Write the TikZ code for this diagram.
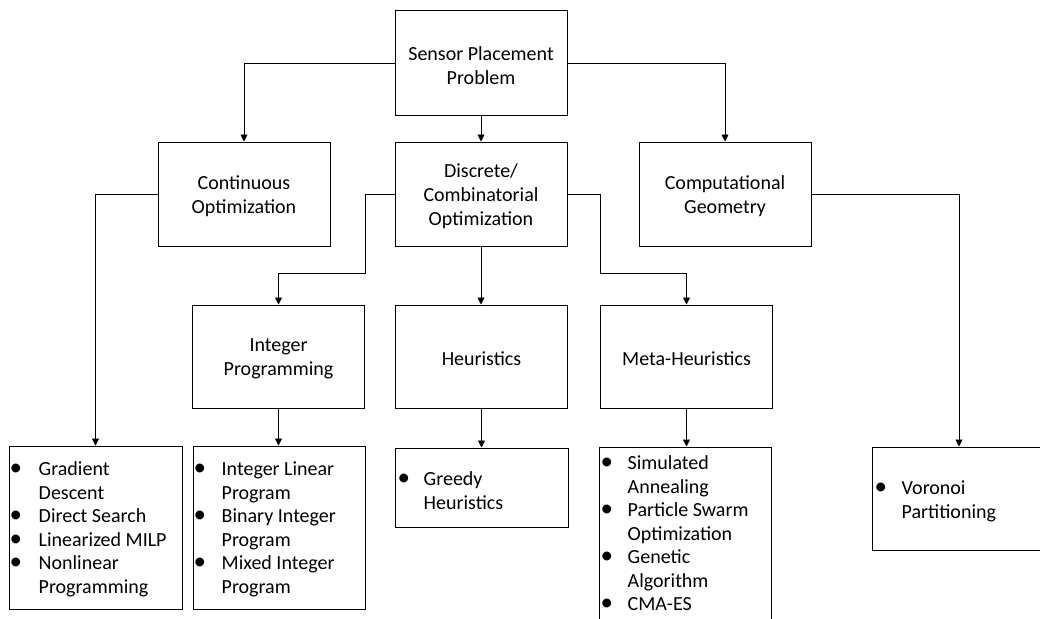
\documentclass[tikz,border=0pt]{standalone}
\usepackage{fontspec}
\setmainfont{Carlito}
\usetikzlibrary{arrows.meta,calc}
\newcommand{\bul}{\raisebox{-0.4pt}{\scalebox{1.25}{\textbullet}}}
\begin{document}
\begin{tikzpicture}[x=1pt,y=-1pt,
  box/.style={draw=black,line width=1pt,minimum width=172pt,minimum height=104pt,inner sep=0pt},
  boxtext/.style={align=center,inner sep=0pt,yshift=-2.5pt,font=\fontsize{20}{24}\selectfont},
  lbox/.style={draw=black,line width=1pt,inner sep=0pt},
  ltext/.style={anchor=base west,inner sep=0pt,font=\fontsize{20}{23.5}\selectfont},
  conn/.style={draw=black,line width=0.8pt,-{Triangle[length=7pt,width=7pt]}}]
\useasboundingbox[fill=white] (0,0) rectangle (1040,618);
\clip (0,0) rectangle (1040,618);

% top and middle boxes
\node[box,label={[boxtext]center:Sensor Placement\\Problem}] (root) at (481,63) {};
\node[box,label={[boxtext]center:Continuous\\Optimization}] (cont) at (244,194) {};
\node[box,label={[boxtext]center:Discrete/\\Combinatorial\\Optimization}] (disc) at (481,194) {};
\node[box,label={[boxtext]center:Computational\\Geometry}] (comp) at (725,194) {};
\node[box,minimum height=103pt,label={[boxtext]center:Integer\\Programming}] (intp) at (278.5,356.5) {};
\node[box,minimum height=103pt,label={[boxtext]center:Heuristics}] (heur) at (481.5,356.5) {};
\node[box,minimum height=103pt,label={[boxtext]center:Meta-Heuristics}] (meta) at (686.5,356.5) {};

% list boxes
\node[lbox,minimum width=173pt,minimum height=163pt] (contlist) at (95.5,527.5) {};
\node[lbox,minimum width=172pt,minimum height=163pt] (intlist) at (279,527.5) {};
\node[lbox,minimum width=173pt,minimum height=79pt] (heurlist) at (481.5,487.5) {};
\node[lbox,minimum width=172pt,minimum height=203pt] (metalist) at (685,548.5) {};
\node[lbox,minimum width=174pt,minimum height=103pt] (vorlist) at (959,498.5) {};

% list texts
\node[ltext] (contitems) at ($(contlist.north west)+(1,30)$)
  {\begin{tabular}[t]{@{}p{29pt}@{}l@{}}\bul & Gradient\\ & Descent\\ \bul & Direct Search\\ \bul & Linearized MILP\\ \bul & Nonlinear\\ & Programming\end{tabular}};
\node[ltext] (intitems) at ($(intlist.north west)+(1,30)$)
  {\begin{tabular}[t]{@{}p{28pt}@{}l@{}}\bul & Integer Linear\\ & Program\\ \bul & Binary Integer\\ & Program\\ \bul & Mixed Integer\\ & Program\end{tabular}};
\node[ltext] (heuritems) at ($(heurlist.north west)+(3,38)$)
  {\begin{tabular}[t]{@{}p{26pt}@{}l@{}}\bul & Greedy\\ & Heuristics\end{tabular}};
\node[ltext] (metaitems) at ($(metalist.north west)+(2,23)$)
  {\begin{tabular}[t]{@{}p{27pt}@{}l@{}}\bul & Simulated\\ & Annealing\\ \bul & Particle Swarm\\ & Optimization\\ \bul & Genetic\\ & Algorithm\\ \bul & CMA-ES\end{tabular}};
\node[ltext] (voritems) at ($(vorlist.north west)+(3,48)$)
  {\begin{tabular}[t]{@{}p{27pt}@{}l@{}}\bul & Voronoi\\ & Partitioning\end{tabular}};

% connectors
\draw[conn] (root.west) -| (cont.north);
\draw[conn] (root.south) -- (disc.north);
\draw[conn] (root.east) -| (comp.north);
\draw[conn] (cont.west) -| (contlist.north);
\draw[conn] (disc.west) -- ++(-29,0) |- ([yshift=31pt]intp.north) -- (intp.north);
\draw[conn] (disc.south) -- (disc.south |- heur.north);
\draw[conn] (disc.east) -- ++(33,0) |- ([yshift=31pt]meta.north) -- (meta.north);
\draw[conn] (comp.east) -| (vorlist.north);
\draw[conn] (intp.south) -- (intp.south |- intlist.north);
\draw[conn] (heur.south) -- (heur.south |- heurlist.north);
\draw[conn] (meta.south) -- (meta.south |- metalist.north);
\end{tikzpicture}
\end{document}
